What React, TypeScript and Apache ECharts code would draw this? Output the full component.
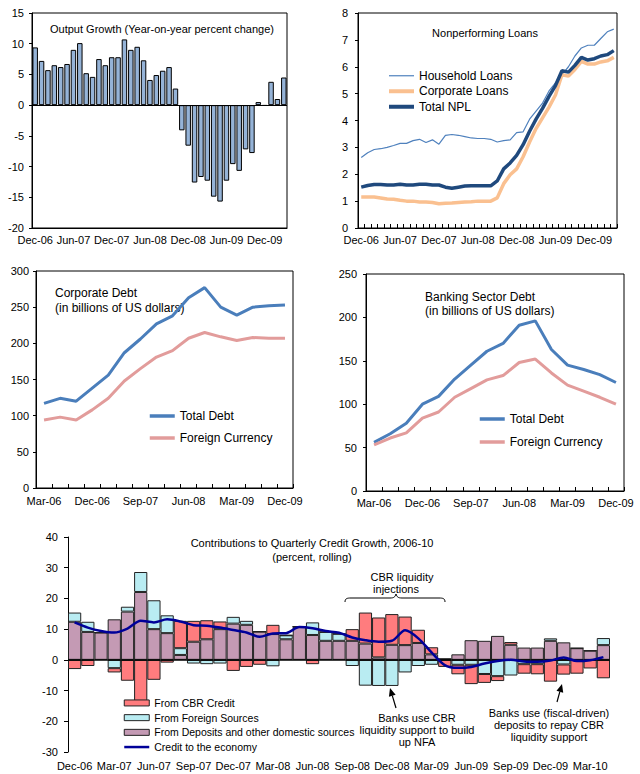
import React, { useEffect, useRef } from 'react';
import * as echarts from 'echarts';

const FONT = 'Liberation Sans, Arial, Helvetica, sans-serif';

// ---------- categories ----------
const monthLabels = ['Dec-06','Jan-07','Feb-07','Mar-07','Apr-07','May-07','Jun-07','Jul-07','Aug-07','Sep-07','Oct-07','Nov-07','Dec-07','Jan-08','Feb-08','Mar-08','Apr-08','May-08','Jun-08','Jul-08','Aug-08','Sep-08','Oct-08','Nov-08','Dec-08','Jan-09','Feb-09','Mar-09','Apr-09','May-09','Jun-09','Jul-09','Aug-09','Sep-09','Oct-09','Nov-09','Dec-09','Jan-10','Feb-10','Mar-10'];
const creditMonthLabels = ['Dec-06','Jan-07','Feb-07','Mar-07','Apr-07','May-07','Jun-07','Jul-07','Aug-07','Sep-07','Oct-07','Nov-07','Dec-07','Jan-08','Feb-08','Mar-08','Apr-08','May-08','Jun-08','Jul-08','Aug-08','Sep-08','Oct-08','Nov-08','Dec-08','Jan-09','Feb-09','Mar-09','Apr-09','May-09','Jun-09','Jul-09','Aug-09','Sep-09','Oct-09','Nov-09','Dec-09','Jan-10','Feb-10','Mar-10','Apr-10'];
const quarterLabels = ['Mar-06','Jun-06','Sep-06','Dec-06','Mar-07','Jun-07','Sep-07','Dec-07','Mar-08','Jun-08','Sep-08','Dec-08','Mar-09','Jun-09','Sep-09','Dec-09'];

// ---------- series values ----------
const outputGrowth = [9.4,7.2,5.7,6.5,6.2,6.7,9.0,10.1,5.2,4.6,7.5,6.5,7.8,7.8,10.7,9.0,9.5,7.3,4.1,4.9,5.6,6.2,2.7,-4.1,-6.6,-12.6,-11.7,-12.3,-14.9,-15.7,-12.3,-9.6,-10.7,-7.2,-7.8,0.5,-0.1,3.8,1.0,4.5];

const nplHousehold = [2.62,2.80,2.92,2.95,3.00,3.07,3.15,3.15,3.25,3.30,3.18,3.28,3.12,3.45,3.48,3.45,3.40,3.35,3.33,3.33,3.30,3.20,3.25,3.28,3.55,3.58,4.05,4.35,4.65,5.10,5.40,5.70,6.00,6.40,6.70,6.80,6.80,7.05,7.30,7.40];
const nplCorporate = [1.15,1.15,1.15,1.12,1.08,1.07,1.03,1.00,1.00,0.97,0.97,0.95,0.90,0.92,0.93,0.95,0.97,0.98,1.00,1.00,1.00,1.12,1.65,1.98,2.20,2.65,3.20,3.70,4.10,4.50,4.95,5.70,5.65,5.90,6.20,6.10,6.10,6.18,6.22,6.35];
const nplTotal = [1.52,1.58,1.62,1.62,1.60,1.60,1.63,1.60,1.60,1.63,1.63,1.60,1.60,1.52,1.48,1.52,1.56,1.57,1.57,1.57,1.57,1.75,2.20,2.42,2.70,3.10,3.60,4.05,4.45,4.90,5.30,5.85,5.80,6.05,6.35,6.25,6.30,6.40,6.45,6.60];

const corpTotalDebt = [117,124,120,138,156,187,206,227,238,263,277,250,239,250,252,253];
const corpForeignCurrency = [94,98,94,108,124,148,165,181,190,207,215,209,204,208,207,207];
const bankTotalDebt = [56,66,78,100,109,129,145,161,170,191,196,163,145,140,134,125];
const bankForeignCurrency = [53,61,67,84,91,108,118,128,133,148,152,136,122,115,108,100];

const fromDeposits = [12.4,9.1,8.9,13.2,15.7,22.1,10.0,8.7,1.6,5.9,6.7,10.0,11.8,11.4,9.2,8.4,6.7,10.8,8.1,6.2,6.2,6.2,5.3,0.8,4.9,4.8,5.5,1.8,0.3,1.8,6.4,6.2,7.8,4.9,4.0,4.0,6.2,5.7,3.8,3.0,4.8];
const fromForeign = [3.0,3.3,0,-2.7,1.6,6.5,9.4,5.8,2.2,-1.2,-1.4,-1.2,2.2,1.3,0,-2.1,1.3,0,4.1,2.9,2.3,-2.0,-8.4,-8.5,-8.5,-4.1,-2.0,-1.6,0,-1.6,-1.6,-4.6,-5.3,-5.1,-1.4,-1.4,0.8,-1.5,0,0,2.3];
const fromCBR = [-3.0,-2.0,0,-1.4,-6.8,-14.0,-6.5,-0.9,8.9,6.8,6.2,2.5,-3.6,-2.3,-1.6,3.0,0,0,-1.4,0,0,3.8,10.1,13.0,10.0,9.3,4.3,2.3,-2.3,-3.1,-6.3,-2.9,-1.6,0.9,-3.1,-3.3,-7.1,-3.3,-4.5,-2.8,-6.0];
const creditToEconomy = [12.2,10.5,9.4,8.9,10.2,12.7,12.2,13.2,12.5,11.3,11.1,10.5,9.7,8.9,7.5,8.6,8.7,10.7,10.3,9.4,8.8,7.3,6.4,5.9,6.2,9.6,7.0,2.4,-1.7,-2.6,-2.3,-1.2,-0.4,0,-0.5,-0.6,-0.2,0.8,-0.4,-0.1,0.9];

// ---------- colours ----------
const C_BAR1 = '#95B3D7';
const C_HH = '#4F81BD';
const C_CORP = '#FAC090';
const C_TOT = '#1F497D';
const C_DEBT = '#4A7EBB';
const C_FX = '#E29C9B';
const C_CBR = '#FF7C7E';
const C_FOR = '#B9ECF2';
const C_DEP = '#C49AB4';
const C_CREDIT = '#000099';

echarts.graphic.registerShape(
  'brace',
  echarts.graphic.extendPath('M0,8 C0,4.5 2,4 6,4 L45,4 C49,4 50,3 51,0 C52,3 53,4 57,4 L94,4 C98,4 100,4.5 100,8', {})
);

const lbl = (extra: any = {}) => ({ color: '#000', fontSize: 11, fontFamily: FONT, ...extra });

const txt = (text: string, x: number, y: number, size = 11, align = 'center') => ({
  type: 'text',
  x,
  y,
  silent: true,
  style: { text, fill: '#000', fontSize: size, fontFamily: FONT, textAlign: align, textVerticalAlign: 'middle' },
});

function arrow(tipX: number, tipY: number, tailX: number, tailY: number) {
  const dx = tipX - tailX;
  const dy = tipY - tailY;
  const len = Math.hypot(dx, dy);
  const ux = dx / len;
  const uy = dy / len;
  const hl = 8;
  const hw = 3.5;
  const bx = tipX - ux * hl;
  const by = tipY - uy * hl;
  const px = -uy;
  const py = ux;
  return [
    { type: 'line', silent: true, shape: { x1: tailX, y1: tailY, x2: bx, y2: by }, style: { stroke: '#000', lineWidth: 1.2 } },
    { type: 'polygon', silent: true, shape: { points: [[tipX, tipY], [bx + px * hw, by + py * hw], [bx - px * hw, by - py * hw]] }, style: { fill: '#000' } },
  ];
}

const frame = { show: true, borderColor: '#000', borderWidth: 1, backgroundColor: 'transparent' };

const yAx = (gridIndex: number, min: number, max: number, interval: number, margin: number) => ({
  gridIndex,
  type: 'value',
  min,
  max,
  interval,
  axisLine: { show: true, lineStyle: { color: '#000', width: 1 } },
  axisTick: { show: true, length: 3, lineStyle: { color: '#000' } },
  splitLine: { show: false },
  axisLabel: lbl({ margin }),
});

const zeroLine = (width: number) => ({
  silent: true,
  symbol: ['none', 'none'],
  label: { show: false },
  lineStyle: { color: '#000', width, type: 'solid' },
  data: [{ yAxis: 0 }],
});

const hide = { opacity: 0 };

const option: any = {
  animation: false,
  textStyle: { fontFamily: FONT },
  grid: [
    { left: 32, top: 13, width: 255, height: 215, ...frame },
    { left: 358, top: 13, width: 259, height: 215, ...frame },
    { left: 36, top: 271, width: 257, height: 217, ...frame },
    { left: 366, top: 274, width: 258, height: 217, ...frame },
    { left: 68, top: 537, width: 542, height: 215 },
  ],
  xAxis: [
    {
      gridIndex: 0, type: 'category', data: monthLabels, boundaryGap: true,
      axisLine: { onZero: false, lineStyle: { color: '#000' } },
      axisTick: { show: false },
      axisLabel: lbl({ interval: 5, margin: 6 }),
    },
    {
      gridIndex: 1, type: 'category', data: monthLabels, boundaryGap: true,
      axisLine: { onZero: false, lineStyle: { color: '#000' } },
      axisTick: { show: true, inside: true, interval: 0, length: 4, lineStyle: { color: '#000' } },
      axisLabel: lbl({ interval: 5, margin: 6 }),
    },
    {
      gridIndex: 2, type: 'category', data: quarterLabels, boundaryGap: true,
      axisLine: { onZero: false, lineStyle: { color: '#000' } },
      axisTick: { show: true, inside: true, interval: 0, length: 4, lineStyle: { color: '#000' } },
      axisLabel: lbl({ interval: 2, margin: 7 }),
    },
    {
      gridIndex: 3, type: 'category', data: quarterLabels, boundaryGap: true,
      axisLine: { onZero: false, lineStyle: { color: '#000' } },
      axisTick: { show: true, inside: true, interval: 0, length: 4, lineStyle: { color: '#000' } },
      axisLabel: lbl({ interval: 2, margin: 6 }),
    },
    {
      gridIndex: 4, type: 'category', data: creditMonthLabels, boundaryGap: true,
      axisLine: { show: false, onZero: false },
      axisTick: { show: false },
      axisLabel: lbl({ interval: 2, margin: 8 }),
    },
  ],
  yAxis: [
    yAx(0, -20, 15, 5, 8),
    yAx(1, 0, 8, 1, 10),
    yAx(2, 0, 300, 50, 7),
    yAx(3, 0, 250, 50, 9),
    { ...yAx(4, -30, 40, 10, 10), axisTick: { show: true, length: 4, lineStyle: { color: '#000' } } },
  ],
  legend: [
    {
      orient: 'vertical', left: 387, top: 68, padding: 0, itemGap: 0,
      itemWidth: 25, itemHeight: 10,
      textStyle: { color: '#000', fontSize: 12, fontFamily: FONT, lineHeight: 15.5 },
      data: [
        { name: 'Household Loans', lineStyle: { width: 1.2 }, itemStyle: hide },
        { name: 'Corporate Loans', lineStyle: { width: 4 }, itemStyle: hide },
        { name: 'Total NPL', lineStyle: { width: 4 }, itemStyle: hide },
      ],
    },
    {
      orient: 'vertical', left: 148, top: 405, padding: 0, itemGap: 0,
      itemWidth: 25, itemHeight: 10,
      textStyle: { color: '#000', fontSize: 12, fontFamily: FONT, lineHeight: 22 },
      data: [
        { name: 'Total Debt', lineStyle: { width: 3.5 }, itemStyle: hide },
        { name: 'Foreign Currency', lineStyle: { width: 3.5 }, itemStyle: hide },
      ],
    },
    {
      orient: 'vertical', left: 478, top: 407.5, padding: 0, itemGap: 0,
      itemWidth: 25, itemHeight: 10,
      textStyle: { color: '#000', fontSize: 12, fontFamily: FONT, lineHeight: 23 },
      data: [
        { name: 'Total Debt', lineStyle: { width: 3.5 }, itemStyle: hide },
        { name: 'Foreign Currency', lineStyle: { width: 3.5 }, itemStyle: hide },
      ],
    },
    {
      orient: 'vertical', left: 123, top: 695.6, padding: 0, itemGap: 0,
      itemWidth: 25, itemHeight: 6,
      textStyle: { color: '#000', fontSize: 10.5, fontFamily: FONT, lineHeight: 14.7 },
      data: [
        { name: 'From CBR Credit', icon: 'rect', itemStyle: { color: C_CBR, borderColor: '#222', borderWidth: 1 } },
        { name: 'From Foreign Sources', icon: 'rect', itemStyle: { color: C_FOR, borderColor: '#222', borderWidth: 1 } },
        { name: 'From Deposits and other domestic sources', icon: 'rect', itemStyle: { color: C_DEP, borderColor: '#222', borderWidth: 1 } },
        { name: 'Credit to the economy', lineStyle: { width: 2.5, color: C_CREDIT }, itemStyle: hide },
      ],
    },
  ],
  series: [
    // Chart 1: output growth
    {
      type: 'bar', name: 'Output Growth', xAxisIndex: 0, yAxisIndex: 0, data: outputGrowth,
      barCategoryGap: '14%',
      itemStyle: { color: C_BAR1, borderColor: '#000', borderWidth: 1 },
      markLine: zeroLine(1),
    },
    // Chart 2: NPL
    {
      type: 'line', name: 'Household Loans', xAxisIndex: 1, yAxisIndex: 1, data: nplHousehold,
      symbol: 'none', lineStyle: { color: C_HH, width: 1.2 }, itemStyle: { color: C_HH },
    },
    {
      type: 'line', name: 'Corporate Loans', xAxisIndex: 1, yAxisIndex: 1, data: nplCorporate,
      symbol: 'none', lineStyle: { color: C_CORP, width: 3.5 }, itemStyle: { color: C_CORP },
    },
    {
      type: 'line', name: 'Total NPL', xAxisIndex: 1, yAxisIndex: 1, data: nplTotal,
      symbol: 'none', lineStyle: { color: C_TOT, width: 3.5 }, itemStyle: { color: C_TOT },
    },
    // Chart 3: corporate debt
    {
      type: 'line', name: 'Total Debt', xAxisIndex: 2, yAxisIndex: 2, data: corpTotalDebt,
      symbol: 'none', lineStyle: { color: C_DEBT, width: 3 }, itemStyle: { color: C_DEBT },
    },
    {
      type: 'line', name: 'Foreign Currency', xAxisIndex: 2, yAxisIndex: 2, data: corpForeignCurrency,
      symbol: 'none', lineStyle: { color: C_FX, width: 3 }, itemStyle: { color: C_FX },
    },
    // Chart 4: banking debt
    {
      type: 'line', name: 'Total Debt', xAxisIndex: 3, yAxisIndex: 3, data: bankTotalDebt,
      symbol: 'none', lineStyle: { color: C_DEBT, width: 3 }, itemStyle: { color: C_DEBT },
    },
    {
      type: 'line', name: 'Foreign Currency', xAxisIndex: 3, yAxisIndex: 3, data: bankForeignCurrency,
      symbol: 'none', lineStyle: { color: C_FX, width: 3 }, itemStyle: { color: C_FX },
    },
    // Chart 5: credit growth contributions
    {
      type: 'bar', name: 'From Deposits and other domestic sources', xAxisIndex: 4, yAxisIndex: 4,
      stack: 'credit', data: fromDeposits, barCategoryGap: '0%',
      itemStyle: { color: C_DEP, borderColor: '#222', borderWidth: 1 },
    },
    {
      type: 'bar', name: 'From Foreign Sources', xAxisIndex: 4, yAxisIndex: 4,
      stack: 'credit', data: fromForeign, barCategoryGap: '0%',
      itemStyle: { color: C_FOR, borderColor: '#222', borderWidth: 1 },
    },
    {
      type: 'bar', name: 'From CBR Credit', xAxisIndex: 4, yAxisIndex: 4,
      stack: 'credit', data: fromCBR, barCategoryGap: '0%',
      itemStyle: { color: C_CBR, borderColor: '#222', borderWidth: 1 },
      markLine: zeroLine(1.5),
    },
    {
      type: 'line', name: 'Credit to the economy', xAxisIndex: 4, yAxisIndex: 4, data: creditToEconomy,
      symbol: 'none', smooth: 0.3, z: 5,
      lineStyle: { color: C_CREDIT, width: 2.5 }, itemStyle: { color: C_CREDIT },
    },
  ],
  graphic: [
    txt('Output Growth (Year-on-year percent change)', 162, 29, 11),
    txt('Nonperforming Loans', 485, 33, 11),
    txt('Corporate Debt', 55, 293, 12, 'left'),
    txt('(in billions of US dollars)', 55, 308, 12, 'left'),
    txt('Banking Sector Debt', 425, 297, 12, 'left'),
    txt('(in billions of US dollars)', 425, 311, 12, 'left'),
    txt('Contributions to Quarterly Credit Growth, 2006-10', 312, 543, 11),
    txt('(percent, rolling)', 312, 557, 11),
    txt('CBR liquidity', 402, 577, 11),
    txt('injections', 396, 588.5, 11),
    { type: 'brace', x: 345, y: 594, silent: true, style: { stroke: '#000', fill: 'none', lineWidth: 1 } },
    txt('Banks use CBR', 417, 718, 11),
    txt('liquidity support to build', 417, 730, 11),
    txt('up NFA', 417, 742, 11),
    txt('Banks use (fiscal-driven)', 549, 713, 11),
    txt('deposits to repay CBR', 549, 725, 11),
    txt('liquidity support', 549, 737, 11),
    ...arrow(390, 688, 396, 708),
    ...arrow(562, 684, 557, 702),
  ],
};

export default function App() {
  const ref = useRef<HTMLDivElement>(null);
  useEffect(() => {
    document.body.style.margin = '0';
    const chart = echarts.init(ref.current as HTMLDivElement, null, { renderer: 'svg' });
    chart.setOption(option);
    return () => chart.dispose();
  }, []);
  return <div ref={ref} style={{ width: 640, height: 774 }} />;
}
